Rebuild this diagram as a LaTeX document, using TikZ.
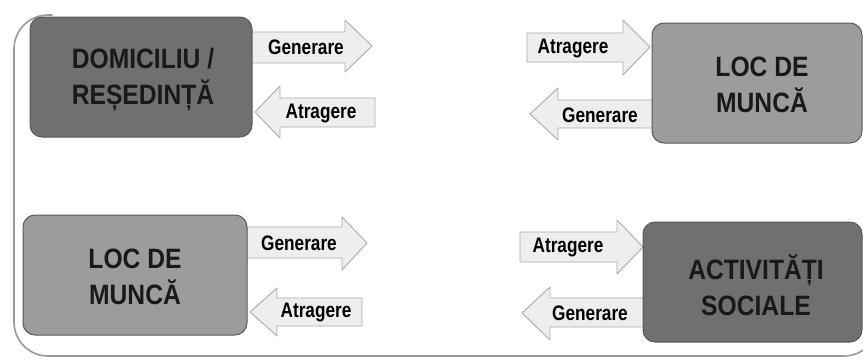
\documentclass[tikz,border=0pt]{standalone}
\usepackage{fontspec}
\setmainfont{Liberation Sans}
\newfontfamily\boxfont[FakeStretch=0.88]{Liberation Sans}
\newfontfamily\arrfont[FakeStretch=0.82]{Liberation Sans}
\usetikzlibrary{backgrounds}

\definecolor{darkbox}{HTML}{707070}
\definecolor{lightbox}{HTML}{9C9C9C}
\definecolor{arrfill}{HTML}{EEEEEE}
\definecolor{arrline}{HTML}{ABABAB}
\definecolor{framegray}{HTML}{9A9A9A}

\begin{document}
\begin{tikzpicture}[line cap=round,line join=round,x=1pt,y=-1pt,
    box/.style={draw=black!65, line width=1pt, rounded corners=12pt, inner sep=0pt},
    arr/.style={fill=arrfill, draw=arrline, line width=0.9pt},
    boxtext/.style={inner sep=0pt, align=center, text=black!90,
      font=\boxfont\bfseries\fontsize{28}{36}\selectfont},
    arrtext/.style={inner sep=0pt, text=black,
      font=\arrfont\bfseries\fontsize{21}{24}\selectfont}]
      \useasboundingbox (0,0) rectangle (863,360);
      % \draw[help lines,step=50] (0,0) grid (863,360);

      % outer frame
      \draw[framegray, line width=1.6pt, rounded corners=34pt]
        (52,15) -- (14,15) -- (14,356) -- (878,356) -- (878,290);

      % generare / atragere, domiciliu
      \draw[arr] (240,32) -- (345,32) -- (345,20) -- (372,46) -- (345,72) -- (345,63) -- (240,63) -- cycle;
      \node[arrtext] (gen1) at (306,47) {Generare};
      \draw[arr] (255,112) -- (280,86) -- (280,98) -- (375,98) -- (375,127) -- (280,127) -- (280,138) -- cycle;
      \node[arrtext] (atr1) at (321,113) {Atragere};

      % atragere / generare, loc de munca (sus)
      \draw[arr] (527,33) -- (623,33) -- (623,20) -- (650,47) -- (623,75) -- (623,62) -- (527,62) -- cycle;
      \node[arrtext] (atr2) at (573,48) {Atragere};
      \draw[arr] (530,114) -- (558,88) -- (558,100) -- (665,100) -- (665,128) -- (558,128) -- (558,140) -- cycle;
      \node[arrtext] (gen2) at (600,115) {Generare};

      % generare / atragere, loc de munca (jos)
      \draw[arr] (235,227) -- (342,227) -- (342,217) -- (367,243) -- (342,270) -- (342,258) -- (235,258) -- cycle;
      \node[arrtext] (gen3) at (299,243) {Generare};
      \draw[arr] (250,312) -- (277,288) -- (277,298) -- (362,298) -- (362,326) -- (277,326) -- (277,336) -- cycle;
      \node[arrtext] (atr3) at (316,312) {Atragere};

      % atragere / generare, activitati sociale
      \draw[arr] (520,232) -- (617,232) -- (617,220) -- (643,247) -- (617,274) -- (617,262) -- (520,262) -- cycle;
      \node[arrtext] (atr4) at (568,247) {Atragere};
      \draw[arr] (522,313) -- (550,287) -- (550,298) -- (655,298) -- (655,327) -- (550,327) -- (550,340) -- cycle;
      \node[arrtext] (gen4) at (590,313) {Generare};

      % boxes
      \draw[box, fill=darkbox] (30,17) rectangle (252,137);
      \node[boxtext] (dom) at (143,80) {DOMICILIU /\\REȘEDINȚĂ};

      \draw[box, fill=lightbox] (652,23) rectangle (862,143);
      \node[boxtext] (loc1) at (762,85) {LOC DE\\MUNCĂ};

      \draw[box, fill=lightbox] (23,215) rectangle (247,335);
      \node[boxtext] (loc2) at (135,277) {LOC DE\\MUNCĂ};

      \draw[box, fill=darkbox] (643,222) rectangle (862,342);
      \node[boxtext] (soc) at (756,285) {ACTIVITĂȚI\\SOCIALE};

    \end{tikzpicture}
\end{document}
